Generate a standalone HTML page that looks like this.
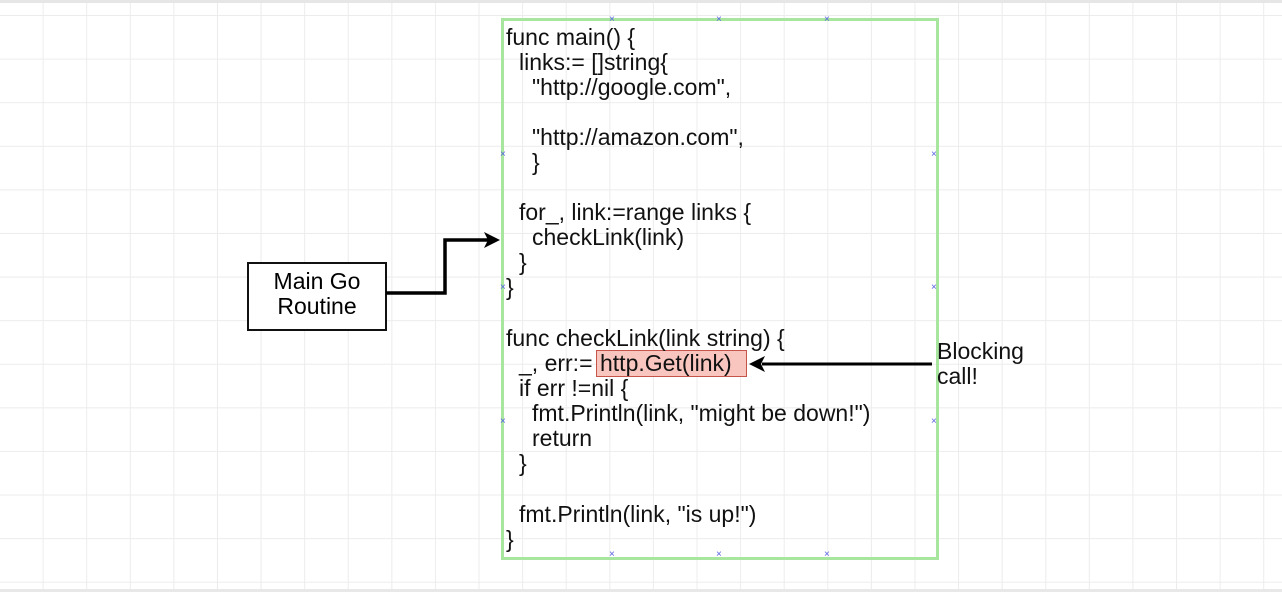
<!DOCTYPE html>
<html><head><style>
html,body{margin:0;padding:0}
body{width:1282px;height:592px;position:relative;overflow:hidden;background:#fff;
background-image:linear-gradient(#ececec 1px,transparent 1px),linear-gradient(90deg,#ececec 1px,transparent 1px);
background-size:43.6px 43.6px;background-position:-1px 15px;font-family:"Liberation Sans",Arial,sans-serif}
.top{position:absolute;left:0;top:0;width:1282px;height:3px;background:#e6e6e6}
.bot{position:absolute;left:0;top:589px;width:1282px;height:3px;background:#e8e8e8}
.code{position:absolute;left:501px;top:18px;width:432px;height:536px;border:3px solid #a8e6a0}
.l{position:absolute;font-size:23px;color:#111;white-space:pre;line-height:25px}
.hl{position:absolute;left:596px;top:350px;width:149px;height:25px;background:#f8c6bf;border:1.5px solid #c5544a}
.mg{position:absolute;left:247px;top:262px;width:136px;height:60px;border:2px solid #111;background:#fff;font-size:23px;text-align:center;line-height:25px;padding-top:5px;box-sizing:content-box}
.x{position:absolute;color:#5560e0;font-size:10px;line-height:10px}
</style></head><body>
<div class="top"></div><div class="bot"></div>
<div class="code"></div>
<div class="hl"></div>
<div class="l" style="left:506px;top:25px">func main() {</div>
<div class="l" style="left:519px;top:50px">links:= []string{</div>
<div class="l" style="left:532px;top:75px">"http://google.com",</div>
<div class="l" style="left:532px;top:125px">"http://amazon.com",</div>
<div class="l" style="left:532px;top:150px">}</div>
<div class="l" style="left:519px;top:200px">for_, link:=range links {</div>
<div class="l" style="left:532px;top:225px">checkLink(link)</div>
<div class="l" style="left:519px;top:250px">}</div>
<div class="l" style="left:506px;top:275px">}</div>
<div class="l" style="left:506px;top:326px">func checkLink(link string) {</div>
<div class="l" style="left:519px;top:351px">_, err:=</div>
<div class="l" style="left:600px;top:351px">http.Get(link)</div>
<div class="l" style="left:519px;top:376px">if err !=nil {</div>
<div class="l" style="left:532px;top:401px">fmt.Println(link, "might be down!")</div>
<div class="l" style="left:532px;top:426px">return</div>
<div class="l" style="left:519px;top:451px">}</div>
<div class="l" style="left:519px;top:502px">fmt.Println(link, "is up!")</div>
<div class="l" style="left:506px;top:527px">}</div>
<div class="l" style="left:937px;top:339px">Blocking</div>
<div class="l" style="left:937px;top:364px">call!</div>
<div class="mg">Main Go<br>Routine</div>
<svg style="position:absolute;left:0;top:0" width="1282" height="592">
<polyline points="386,293 445,293 445,240 488,240" fill="none" stroke="#000" stroke-width="3.5"/>
<polygon points="500,240 484,232 488,240 484,248" fill="#000"/>
<line x1="932" y1="364" x2="762" y2="364" stroke="#000" stroke-width="3"/>
<polygon points="749,364 765,356 761,364 765,372" fill="#000"/>
</svg>
<div class="x" style="left:609px;top:15px">×</div><div class="x" style="left:716px;top:15px">×</div><div class="x" style="left:824px;top:15px">×</div>
<div class="x" style="left:609px;top:550px">×</div><div class="x" style="left:716px;top:550px">×</div><div class="x" style="left:824px;top:550px">×</div>
<div class="x" style="left:500px;top:150px">×</div><div class="x" style="left:500px;top:283px">×</div><div class="x" style="left:500px;top:417px">×</div>
<div class="x" style="left:931px;top:150px">×</div><div class="x" style="left:931px;top:283px">×</div><div class="x" style="left:931px;top:417px">×</div>
</body></html>
